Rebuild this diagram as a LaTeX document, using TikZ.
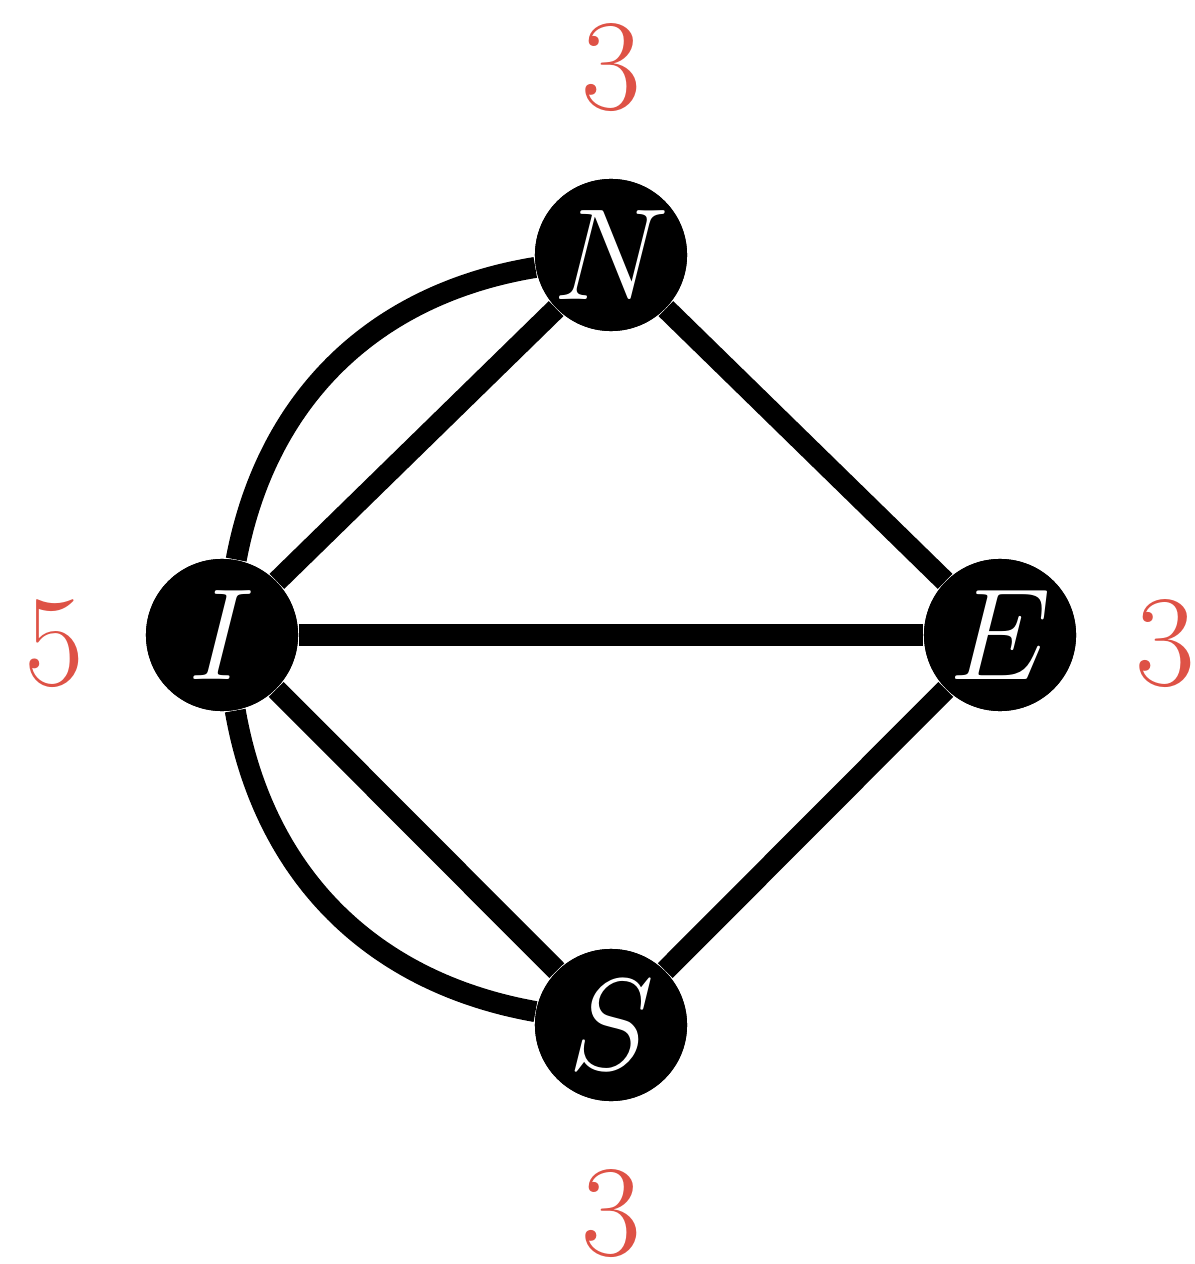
\RequirePackage{fix-cm}
\documentclass[tikz,border=0pt]{standalone}
\usepackage{xcolor}
\definecolor{lblred}{RGB}{222,82,70}
\begin{document}
\begin{tikzpicture}[x=0.01cm,y=-0.01cm,
  vtx/.style={circle,fill=black,minimum size=1.52cm,inner sep=0pt,text=white,font=\fontsize{37}{44}\selectfont},
  lbl/.style={text=lblred,inner sep=0pt,font=\fontsize{37}{44}\selectfont},
  edge/.style={line width=0.21cm}]
\useasboundingbox (0,0) rectangle (1195,1264);
\node[vtx] (N) at (611,255) {$N$};
\node[vtx] (I) at (222,635) {$I$};
\node[vtx] (E) at (1000,635) {$E$};
\node[vtx] (S) at (611,1025) {$S$};
\draw[edge] (I) to[bend left=35] (N);
\draw[edge] (I) -- (N);
\draw[edge] (N) -- (E);
\draw[edge] (I) -- (E);
\draw[edge] (I) -- (S);
\draw[edge] (S) -- (E);
\draw[edge] (I) to[bend right=35] (S);
\node[vtx] at (N) {$N$};
\node[vtx] at (I) {$I$};
\node[vtx] at (E) {$E$};
\node[vtx] at (S) {$S$};
\node[lbl] (lN) at (611,68) {3};
\node[lbl] (lI) at (54,644) {5};
\node[lbl] (lE) at (1165,644) {3};
\node[lbl] (lS) at (611,1214) {3};
\end{tikzpicture}
\end{document}
